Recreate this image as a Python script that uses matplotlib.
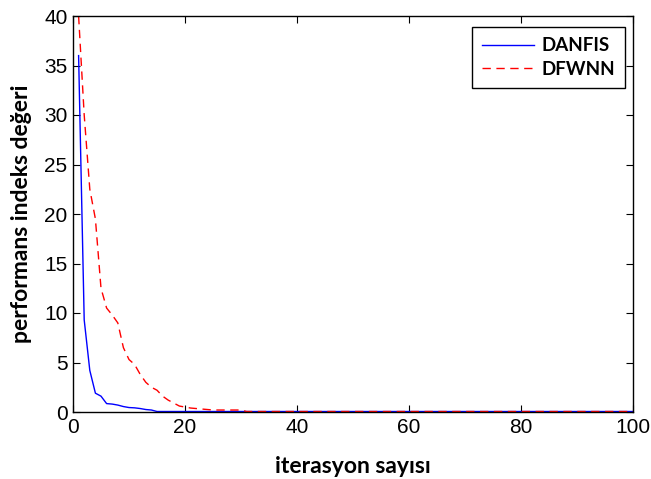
import matplotlib
matplotlib.use("Agg")
import matplotlib.pyplot as plt

iterations = list(range(1, 101))
danfis_head = [36.0, 9.3, 4.2, 1.9, 1.6, 0.85, 0.8, 0.7, 0.55, 0.45,
               0.42, 0.35, 0.25, 0.2, 0.05]
dfwnn_head = [40.0, 30.0, 22.5, 19.5, 12.5, 10.5, 9.8, 9.0, 6.5, 5.3,
              4.8, 3.8, 3.0, 2.5, 2.2, 1.6, 1.2, 0.9, 0.6, 0.5,
              0.4, 0.35, 0.3, 0.25, 0.2, 0.2, 0.2, 0.2, 0.2, 0.2]
danfis = danfis_head + [0.05] * (100 - len(danfis_head))
dfwnn = dfwnn_head + [0.05] * (100 - len(dfwnn_head))

xticks = [0, 20, 40, 60, 80, 100]
yticks = [0, 5, 10, 15, 20, 25, 30, 35, 40]

fig = plt.figure(figsize=(6.51, 4.79), dpi=100)
ax = fig.add_axes([73/651, 1 - 412/479, (633-73)/651, (412-16)/479])

ax.plot(iterations, danfis, color="#0000ff", lw=1.0, label="DANFIS")
ax.plot(iterations, dfwnn, color="#ff0000", lw=1.0, ls=(0, (6, 4)), label="DFWNN")

ax.set_xlim(0, 100)
ax.set_ylim(0, 40)
ax.set_xticks(xticks)
ax.set_yticks(yticks)
ax.tick_params(direction="in", top=True, right=True, length=5, width=0.8,
               labelsize=15, pad=4)
for lab in ax.get_xticklabels() + ax.get_yticklabels():
    lab.set_fontfamily("Liberation Sans")
for s in ax.spines.values():
    s.set_linewidth(1.0)

lblfont = dict(family="Lato", weight="bold", size=16.5)
ax.set_xlabel("iterasyon sayısı", fontdict=lblfont, labelpad=14)
ax.set_ylabel("performans indeks değeri", fontdict=lblfont, labelpad=9)

leg = ax.legend(loc="upper right", prop=dict(family="Lato", weight="bold", size=13.5),
                fancybox=False, edgecolor="black", framealpha=1,
                handlelength=2.8, handletextpad=0.35, borderpad=0.55,
                borderaxespad=0, labelspacing=0.35,
                bbox_to_anchor=(0.9857, 0.972))
leg.get_frame().set_linewidth(1.0)

fig.savefig("out.png", dpi=100)
